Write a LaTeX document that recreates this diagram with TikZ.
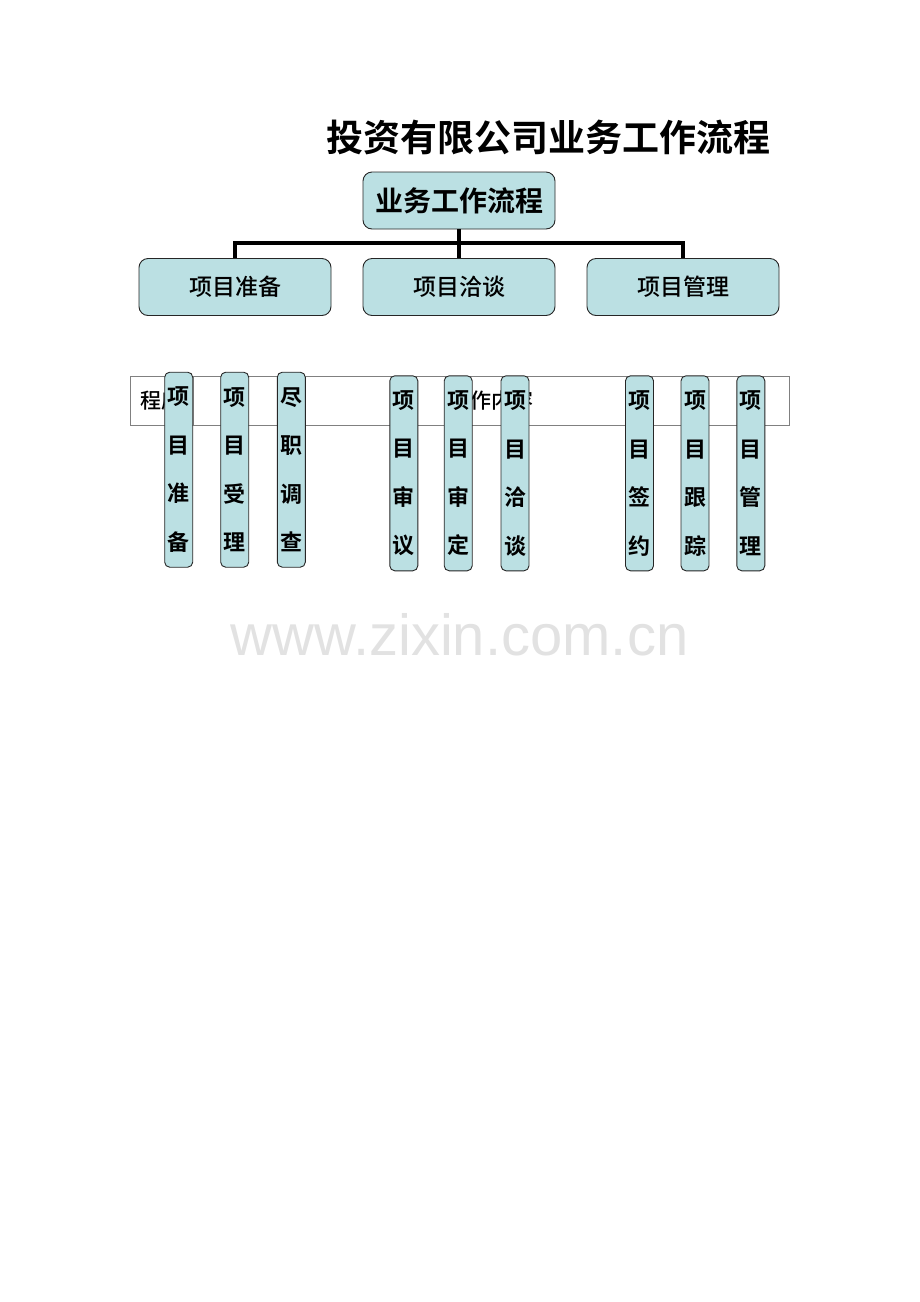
\documentclass[tikz,border=0pt]{standalone}
\usepackage{fontspec}
\setmainfont{Noto Sans CJK SC}[BoldFont={Noto Sans CJK SC Bold}]
\newfontfamily\midfont{Noto Sans CJK SC Medium}
\newfontfamily\markfont{Liberation Sans}
\usepackage{color}
\definecolor{paleteal}{RGB}{187,224,227}
\definecolor{markgray}{RGB}{226,226,226}

\tikzset{
  flowbox/.style={draw=black!85,fill=paleteal,rounded corners=9pt,line width=0.9pt,inner sep=0pt,minimum width=192pt,minimum height=57pt},
  stepcol/.style={draw=black!85,fill=paleteal,rounded corners=5pt,line width=0.9pt,inner sep=0pt,minimum width=28pt,minimum height=195pt,align=center,font=\bfseries\fontsize{22}{48.5}\selectfont},
  cell/.style={draw=black!50,line width=0.8pt,inner sep=0pt,minimum height=49pt,font=\midfont\fontsize{21}{24}\selectfont},
  link/.style={line width=3.2pt,black}
}

\begin{document}
\begin{tikzpicture}[x=1pt,y=-1pt]
    \useasboundingbox (0,0) rectangle (920,1302);
    \coordinate (title) at (548,137);
    \coordinate (top) at (459,200.5);
    \coordinate (split) at (459,243);
    \coordinate (l_prep) at (235,287);
    \coordinate (l_talk) at (459,287);
    \coordinate (l_mgmt) at (683,287);
    \coordinate (c_order) at (161.5,400.5);
    \coordinate (c_work) at (491,400.5);
    \coordinate (mark) at (459.5,635);

    \node[font=\bfseries\fontsize{37}{40}\selectfont] (Title) at (title) {投资有限公司业务工作流程};
    \node[flowbox,font=\bfseries\fontsize{28}{30}\selectfont] (Root) at (top) {业务工作流程};
    \node[flowbox,font=\midfont\fontsize{23}{26}\selectfont] (Prep) at (l_prep) {项目准备};
    \node[flowbox,font=\midfont\fontsize{23}{26}\selectfont] (Talk) at (l_talk) {项目洽谈};
    \node[flowbox,font=\midfont\fontsize{23}{26}\selectfont] (Mgmt) at (l_mgmt) {项目管理};

    \draw[link] (Prep.north) |- (split) -| (Mgmt.north);
    \draw[link] (Root.south) -- (Talk.north);

    % table row behind the columns
    \node[cell,minimum width=63pt] (Order) at (c_order) {程序};
    \node[cell,minimum width=596pt] (Work) at (c_work) {工作内容};

    \node[stepcol] (S1) at (178.7,469.7) {项\\目\\准\\备};
    \node[stepcol] (S2) at (234.7,469.7) {项\\目\\受\\理};
    \node[stepcol] (S3) at (291.3,469.7) {尽\\职\\调\\查};
    \node[stepcol] (S4) at (403.8,473.3) {项\\目\\审\\议};
    \node[stepcol] (S5) at (458.2,473.3) {项\\目\\审\\定};
    \node[stepcol] (S6) at (515,473.3) {项\\目\\洽\\谈};
    \node[stepcol] (S7) at (639.5,473.3) {项\\目\\签\\约};
    \node[stepcol] (S8) at (695,473.3) {项\\目\\跟\\踪};
    \node[stepcol] (S9) at (750.8,473.3) {项\\目\\管\\理};

    \node[text=markgray,font=\markfont\fontsize{58}{62}\selectfont] (Mark) at (mark) {www.zixin.com.cn};
\end{tikzpicture}
\end{document}
